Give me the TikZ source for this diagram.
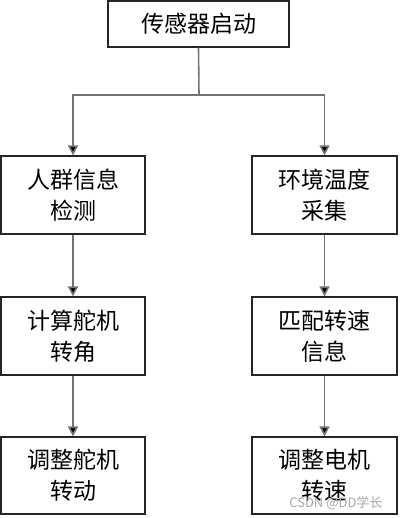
\documentclass[tikz,border=0pt]{standalone}
\usepackage{fontspec}
\newfontfamily\cjk{Noto Sans CJK SC}
\usetikzlibrary{arrows.meta}
\begin{document}
\begin{tikzpicture}[x=1pt,y=-1pt,
  box/.style={draw=black!85,line width=1.2pt,inner sep=0pt,font=\cjk\fontsize{23}{31}\selectfont,align=center},
  conn/.style={draw=black!55,line width=1.6pt,-{Triangle[length=10pt,width=10pt,fill=black]}}]
\useasboundingbox (0,0) rectangle (400,518);
\node[box,minimum width=181pt,minimum height=46pt] (start) at (198.5,24) {传感器启动};
\node[box,minimum width=144pt,minimum height=78pt] (l1) at (73,195) {人群信息\\检测};
\node[box,minimum width=145pt,minimum height=78pt] (r1) at (324.5,195) {环境温度\\采集};
\node[box,minimum width=144pt,minimum height=78pt] (l2) at (73,336) {计算舵机\\转角};
\node[box,minimum width=145pt,minimum height=78pt] (r2) at (324.5,336) {匹配转速\\信息};
\node[box,minimum width=144pt,minimum height=77pt] (l3) at (73,475.5) {调整舵机\\转动};
\node[box,minimum width=145pt,minimum height=77pt] (r3) at (324.5,475.5) {调整电机\\转速};
\coordinate (j) at (199,95);
\draw[draw=black!55,line width=1.6pt] (start.south) -- (j);
\draw[conn] (j) -| (l1.north);
\draw[conn] (j) -| (r1.north);
\draw[conn] (l1) -- (l2);
\draw[conn] (r1) -- (r2);
\draw[conn] (l2) -- (l3);
\draw[conn] (r2) -- (r3);
\node[text=black!35,font=\cjk\fontsize{13}{15}\selectfont,anchor=east] (wm) at (386,503) {CSDN @DD学长};
\end{tikzpicture}
\end{document}
